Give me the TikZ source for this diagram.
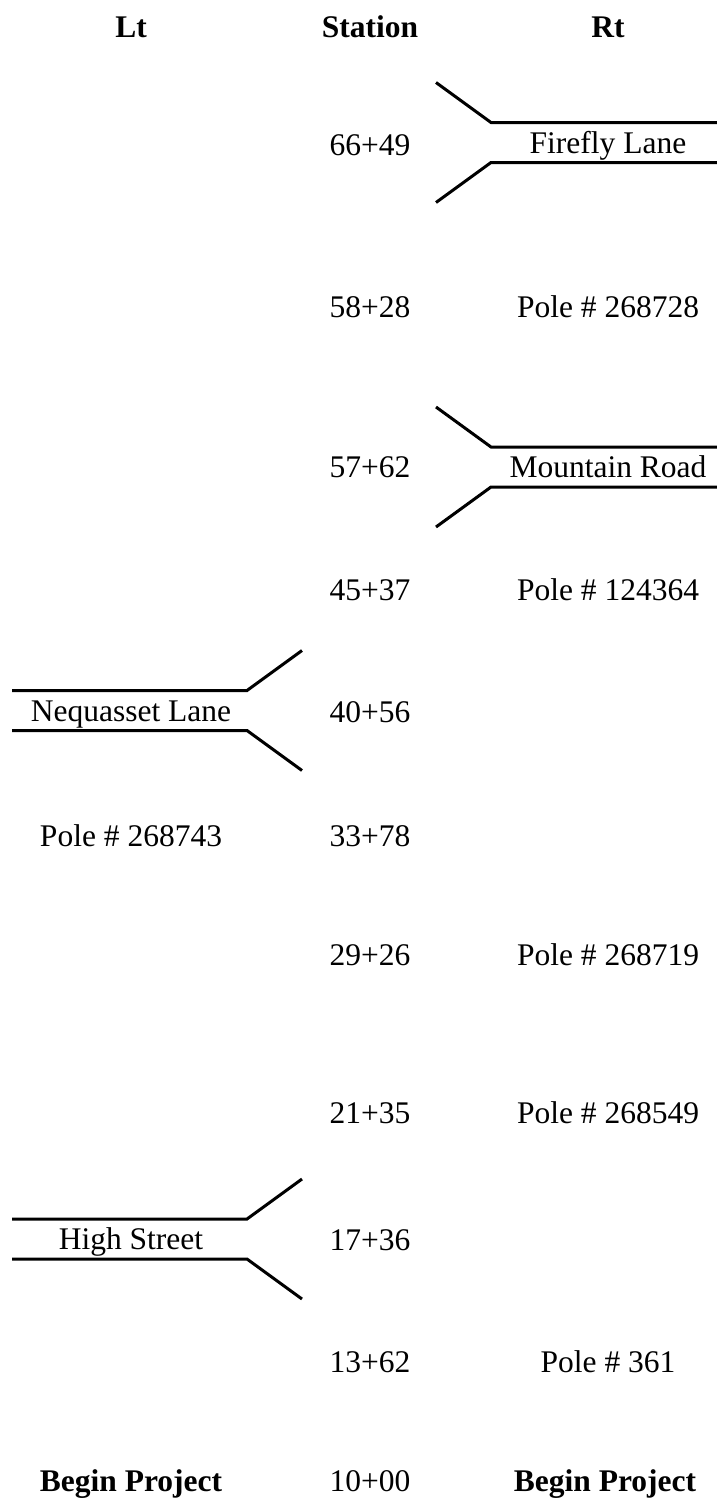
\documentclass[tikz,border=0pt]{standalone}
\usepackage{fontspec}
\setmainfont{Liberation Serif}
\usetikzlibrary{positioning}
\tikzset{
  cell/.style={anchor=base, inner sep=0pt,
    font=\fontsize{31.5}{36}\selectfont},
  headcell/.style={cell, font=\fontsize{31.5}{36}\selectfont\bfseries},
  road/.style={line width=3pt, line join=miter},
}

\begin{document}
\begin{tikzpicture}[x=1pt, y=-1pt]
  \useasboundingbox (0,0) rectangle (717,1502);

  % column heads
  \node[headcell] (lt) at (131,37) {Lt};
  \node[headcell] (station) at (370,37) {Station};
  \node[headcell] (rt) at (608,37) {Rt};

  % stations
  \foreach \sta/\y [count=\i] in {
    66+49/155.5, 58+28/317.5, 57+62/477.5, 45+37/600.5,
    40+56/722.5, 33+78/846.5, 29+26/965.5, 21+35/1123.5,
    17+36/1250.5, 13+62/1372.5, 10+00/1491
  }{
    \node[cell] (st\i) at (370,\y) {\sta};
  }

  % poles
  \foreach \pole/\x/\y [count=\i] in {
    268728/608/317.5, 124364/608/600.5, 268743/131/846.5,
    268719/608/965.5, 268549/608/1123.5, 361/608/1372.5
  }{
    \node[cell] (pole\i) at (\x,\y) {Pole \# \pole};
  }

  % roads on the right
  \foreach \name/\y [count=\i] in {
    {Firefly Lane}/142.5, {Mountain Road}/467
  }{
    \node[cell] (rroad\i) at (608,{\y+10.5}) {\name};
    \draw[road] (436,{\y-60}) -- (491,{\y-20}) -- (717,{\y-20});
    \draw[road] (436,{\y+60}) -- (491,{\y+20}) -- (717,{\y+20});
  }

  % roads on the left
  \foreach \name/\y [count=\i] in {
    {Nequasset Lane}/710.5, {High Street}/1239
  }{
    \node[cell] (lroad\i) at (131,{\y+10.5}) {\name};
    \draw[road] (12,{\y-20}) -- (247,{\y-20}) -- (302,{\y-60});
    \draw[road] (12,{\y+20}) -- (247,{\y+20}) -- (302,{\y+60});
  }

  % project start
  \node[headcell] (beginl) at (131,1491) {Begin Project};
  \node[headcell] (beginr) at (605,1491) {Begin Project};
\end{tikzpicture}
\end{document}
